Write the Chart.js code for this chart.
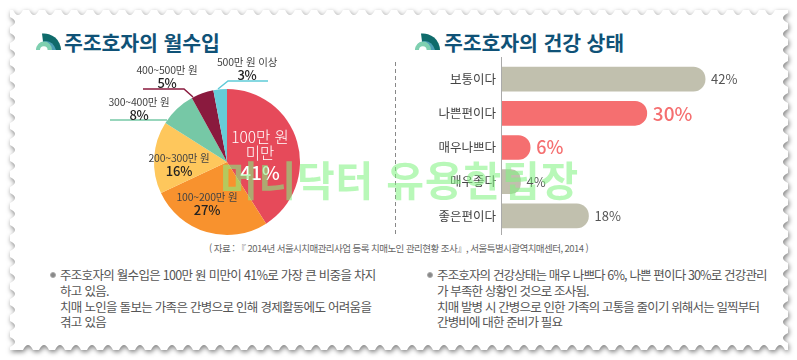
<!DOCTYPE html>
<html lang="ko">
<head>
<meta charset="utf-8">
<script src="https://cdn.jsdelivr.net/npm/chart.js@4"></script>
<style>
  html, body { margin: 0; background: #fff; }
  #page { position: relative; width: 797px; height: 360px; overflow: hidden; font-family: "Noto Sans CJK KR", sans-serif; color: #444; }
  #page > * { position: absolute; }
  .title { font-size: 20.5px; font-weight: 700; color: #0f5277; line-height: 24px; white-space: nowrap; letter-spacing: -0.1px; }
  .lab { transform: translateX(-50%); text-align: center; white-space: nowrap; font-size: 10.5px; line-height: 12px; color: #444; letter-spacing: -0.2px; }
  .lab b { display: block; font-size: 13px; line-height: 13px; font-weight: 500; color: #222; }
  .inner { transform: translateX(-50%); text-align: center; white-space: nowrap; color: #fff; font-size: 15.5px; line-height: 16px; font-weight: 300; }
  .inner b { display: block; font-size: 19px; line-height: 24px; font-weight: 500; }
  .note { font-size: 12.5px; line-height: 15.8px; color: #555; white-space: nowrap; }
  .dot { width: 6px; height: 6px; border-radius: 50%; background: #888; border: 1px solid #aaa; box-sizing: border-box; }
  #source { left: 209px; top: 241px; font-size: 9.5px; line-height: 14px; color: #666; white-space: nowrap; letter-spacing: -0.55px; }
  #mark { left: 220px; top: 153px; font-size: 41px; line-height: 50px; font-weight: 700; color: rgba(130, 242, 130, 0.57); white-space: nowrap; letter-spacing: 0.8px; }
</style>
</head>
<body>
<div id="page">
  <svg id="frame" width="797" height="360" style="left:0;top:0"></svg>

  <svg width="797" height="360" style="left:0;top:0">
    <g id="iconLeft"></g>
    <g id="iconRight"></g>
    <line x1="395.5" y1="62" x2="395.5" y2="236" stroke="#888" stroke-dasharray="4 3"/>
    <polyline points="218,89 228,81 268,81" fill="none" stroke="#5fcbd8" stroke-width="1.5"/>
    <polyline points="143,89 184,89 193,97" fill="none" stroke="#8a1a3e" stroke-width="1.5"/>
    <polyline points="110,120 167,120" fill="none" stroke="#76c8a6" stroke-width="1.5"/>
  </svg>

  <div class="title" style="left:64px;top:30px" id="titleLeft"></div>
  <div class="title" style="left:444px;top:30px" id="titleRight"></div>

  <div style="left:152px;top:87px;width:150px;height:150px"><canvas id="chart-income" width="150" height="150"></canvas></div>
  <div style="left:400px;top:57px;width:344px;height:178px"><canvas id="chart-health" width="344" height="178"></canvas></div>

  <div id="labels" style="left:0;top:0"></div>

  <div id="source"></div>

  <div class="dot" style="left:50px;top:272px"></div>
  <div class="note" id="noteLeft" style="left:60px;top:267px;letter-spacing:-0.7px"></div>
  <div class="dot" style="left:427px;top:272px"></div>
  <div class="note" id="noteRight" style="left:437px;top:267px;letter-spacing:-0.85px"></div>

  <div id="mark"></div>
</div>

<script>
const incomeLabels = ["100만 원 미만", "100~200만 원", "200~300만 원", "300~400만 원", "400~500만 원", "500만 원 이상"];
const incomeValues = [41, 27, 16, 8, 5, 3];
const incomeColors = ["#e64a5a", "#f8922e", "#fec75c", "#76c8a6", "#8a1a3e", "#66ccd8"];

const healthLabels = ["보통이다", "나쁜편이다", "매우나쁘다", "매우좋다", "좋은편이다"];
const healthValues = [42, 30, 6, 4, 18];
const healthColors = ["#c1c0ae", "#f56f70", "#f56f70", "#c1c0ae", "#c1c0ae"];
const healthTextColors = ["#555", "#f56f70", "#f56f70", "#555", "#555"];
const healthTextSizes = [13, 19, 18, 13, 13];

const titles = ["주조호자의 월수입", "주조호자의 건강 상태"];
const sourceText = "( 자료 : 『 2014년 서울시치매관리사업 등록 치매노인 관리현황 조사』, 서울특별시광역치매센터, 2014 )";
const noteLeftLines = [
  "주조호자의 월수입은 100만 원 미만이 41%로 가장 큰 비중을 차지",
  "하고 있음.",
  "치매 노인을 돌보는 가족은 간병으로 인해 경제활동에도 어려움을",
  "겪고 있음",
];
const noteRightLines = [
  "주조호자의 건강상태는 매우 나쁘다 6%, 나쁜 편이다 30%로 건강관리",
  "가 부족한 상황인 것으로 조사됨.",
  "치매 발병 시 간병으로 인한 가족의 고통을 줄이기 위해서는 일찍부터",
  "간병비에 대한 준비가 필요",
];
const watermark = "머니닥터 유용한팁장";

// label anchors around the pie, same order as incomeLabels
const outerLabelPos = [null, [207, 191], [179, 152], [139, 96], [167, 64], [247, 56]];

function buildFrame() {
  const left = 10, top = 10, right = 788, bottom = 350, step = 16, depth = 5;
  let d = `M${left} ${top}`;
  for (let x = left; x + step <= right; x += step) d += `L${x + 3} ${top}Q${x + 8} ${top + depth * 2} ${x + 13} ${top}L${x + step} ${top}`;
  d += `L${right} ${top}`;
  for (let y = top; y + step <= bottom; y += step) d += `L${right} ${y + 3}Q${right - depth * 2} ${y + 8} ${right} ${y + 13}L${right} ${y + step}`;
  d += `L${right} ${bottom}`;
  for (let x = right; x - step >= left; x -= step) d += `L${x - 3} ${bottom}Q${x - 8} ${bottom - depth * 2} ${x - 13} ${bottom}L${x - step} ${bottom}`;
  d += `L${left} ${bottom}`;
  for (let y = bottom; y - step >= top; y -= step) d += `L${left} ${y - 3}Q${left + depth * 2} ${y - 8} ${left} ${y - 13}L${left} ${y - step}`;
  d += "Z";
  document.getElementById("frame").innerHTML =
    `<path d="${d}" fill="#fff" style="filter:drop-shadow(1px 2px 2.5px rgba(0,0,0,.5))"/>`;
}

function buildIcon(id, x, y) {
  document.getElementById(id).innerHTML = `
    <path d="M${x + 6} ${y - 16.5}A17 17 0 0 1 ${x + 25} ${y}L${x + 8} ${y}Z" fill="#0f6b6b"/>
    <path d="M${x} ${y}A10.5 13 0 0 1 ${x + 20} ${y}Z" fill="#4d9fb5"/>
    <path d="M${x} ${y}A8 8.5 0 0 1 ${x + 16} ${y}Z" fill="#7fd0b0"/>
    <path d="M${x + 4} ${y}A3.8 3.8 0 0 1 ${x + 11.6} ${y}Z" fill="#fff"/>`;
}

function buildText() {
  document.getElementById("titleLeft").textContent = titles[0];
  document.getElementById("titleRight").textContent = titles[1];
  document.getElementById("source").textContent = sourceText;
  document.getElementById("noteLeft").innerHTML = noteLeftLines.join("<br>");
  document.getElementById("noteRight").innerHTML = noteRightLines.join("<br>");
  document.getElementById("mark").textContent = watermark;

  const box = document.getElementById("labels");
  incomeLabels.forEach((label, i) => {
    const el = document.createElement("div");
    el.style.position = "absolute";
    if (i === 0) {
      el.className = "inner";
      el.style.left = "260px";
      el.style.top = "128px";
      el.innerHTML = `100만 원<br>미만<b>${incomeValues[i]}%</b>`;
    } else {
      el.className = "lab";
      el.style.left = `${outerLabelPos[i][0]}px`;
      el.style.top = `${outerLabelPos[i][1]}px`;
      el.innerHTML = `${label}<b>${incomeValues[i]}%</b>`;
    }
    box.appendChild(el);
  });
}

// 막대 끝 값 라벨 + 축 세로선
const healthDecor = {
  id: "healthDecor",
  afterDatasetsDraw(chart) {
    const { ctx, scales } = chart;
    ctx.save();
    ctx.strokeStyle = "#aaa";
    ctx.lineWidth = 1;
    ctx.beginPath();
    ctx.moveTo(scales.x.left + 0.5, 0);
    ctx.lineTo(scales.x.left + 0.5, chart.height);
    ctx.stroke();
    ctx.textBaseline = "middle";
    chart.getDatasetMeta(0).data.forEach((bar, i) => {
      ctx.fillStyle = healthTextColors[i];
      ctx.font = `${healthTextSizes[i] > 13 ? 500 : 400} ${healthTextSizes[i]}px "Noto Sans CJK KR"`;
      ctx.fillText(`${healthValues[i]}%`, bar.x + 6, bar.y);
    });
    ctx.restore();
  },
};

function renderIncomeChart() {
  new Chart(document.getElementById("chart-income"), {
    type: "pie",
    data: {
      labels: incomeLabels,
      datasets: [{ data: incomeValues, backgroundColor: incomeColors, borderWidth: 0, radius: 73 }],
    },
    options: {
      responsive: false,
      animation: false,
      plugins: { legend: { display: false }, tooltip: { enabled: false } },
    },
  });
}

function renderHealthChart() {
  new Chart(document.getElementById("chart-health"), {
    type: "bar",
    data: {
      labels: healthLabels,
      datasets: [{
        data: healthValues,
        backgroundColor: healthColors,
        barThickness: 24,
        borderRadius: { topRight: 12, bottomRight: 12 },
        borderSkipped: "left",
      }],
    },
    options: {
      indexAxis: "y",
      responsive: false,
      animation: false,
      layout: { padding: { top: 5, bottom: 2 } },
      plugins: { legend: { display: false }, tooltip: { enabled: false } },
      scales: {
        x: { display: false, min: 0, max: 50 },
        y: {
          afterFit: (axis) => {
            axis.width = 101;
            axis.paddingTop = 0;
            axis.paddingBottom = 0;
          },
          grid: { display: false, drawTicks: false },
          border: { display: false },
          ticks: { color: "#444", padding: 5, font: { size: 12.5, family: '"Noto Sans CJK KR"' } },
        },
      },
    },
    plugins: [healthDecor],
  });
}

buildFrame();
buildIcon("iconLeft", 36, 50);
buildIcon("iconRight", 415, 50);
buildText();
renderIncomeChart();
renderHealthChart();
</script>
</body>
</html>
